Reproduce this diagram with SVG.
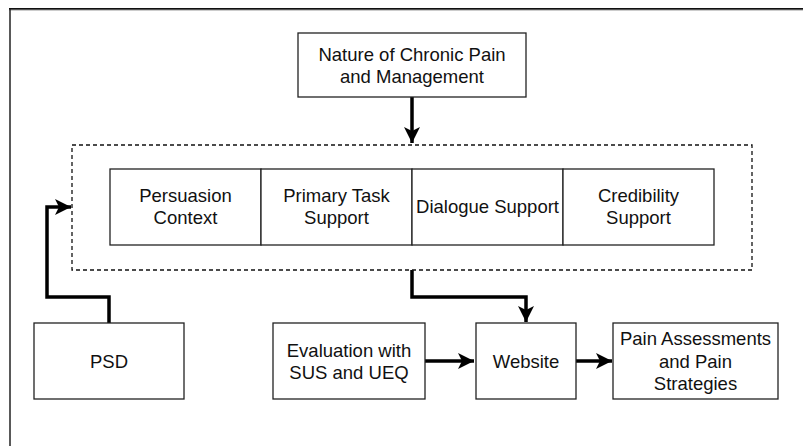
<svg xmlns="http://www.w3.org/2000/svg" width="803" height="446" viewBox="0 0 803 446">
  <style>
    .box { fill: #ffffff; stroke: #222222; stroke-width: 1.3; }
    .dash { fill: none; stroke: #111111; stroke-width: 1.3; stroke-dasharray: 4 3; }
    .edge { fill: none; stroke: #000000; stroke-width: 3.5; }
    .t { font-family: "Liberation Sans", Arial, sans-serif; font-size: 18.5px; fill: #111111; text-anchor: middle; }
  </style>
  <defs>
    <marker id="arr" markerUnits="userSpaceOnUse" markerWidth="20" markerHeight="20" viewBox="0 0 20 20" refX="17" refY="10" orient="auto">
      <path d="M1,2 L17,10 L1,18 L5,10 Z" fill="#000000"/>
    </marker>
  </defs>
  <rect width="803" height="446" fill="#ffffff"/>
  <g id="frame">
    <line x1="9" y1="9" x2="803" y2="9" stroke="#111" stroke-width="2"/>
    <line x1="9" y1="10" x2="803" y2="10" stroke="#999" stroke-width="1"/>
    <line x1="10" y1="9" x2="10" y2="446" stroke="#222" stroke-width="1.5"/>
  </g>
  <g id="connectors">
    <path class="edge" d="M412,97 V143" marker-end="url(#arr)"/>
    <path class="edge" d="M412,270 V297 H526 V322" marker-end="url(#arr)"/>
    <path class="edge" d="M109,323 V297 H47 V207 H71" marker-end="url(#arr)"/>
    <path class="edge" d="M425,361 H474" marker-end="url(#arr)"/>
    <path class="edge" d="M576,361 H612" marker-end="url(#arr)"/>
  </g>
  <g id="nature">
    <rect class="box" x="298" y="33" width="228" height="64"/>
    <text class="t" x="412" y="61">Nature of Chronic Pain</text>
    <text class="t" x="412" y="83">and Management</text>
  </g>
  <g id="container">
    <rect class="dash" x="72" y="145" width="680" height="125"/>
  </g>
  <g id="persuasion">
    <rect class="box" x="110" y="169" width="151" height="76"/>
    <text class="t" x="185.5" y="202">Persuasion</text>
    <text class="t" x="185.5" y="224">Context</text>
  </g>
  <g id="primary">
    <rect class="box" x="261" y="169" width="151" height="76"/>
    <text class="t" x="336.5" y="202">Primary Task</text>
    <text class="t" x="336.5" y="224">Support</text>
  </g>
  <g id="dialogue">
    <rect class="box" x="412" y="169" width="151" height="76"/>
    <text class="t" x="487.5" y="213">Dialogue Support</text>
  </g>
  <g id="credibility">
    <rect class="box" x="563" y="169" width="151" height="76"/>
    <text class="t" x="638.5" y="202">Credibility</text>
    <text class="t" x="638.5" y="224">Support</text>
  </g>
  <g id="psd">
    <rect class="box" x="34" y="323" width="150" height="76"/>
    <text class="t" x="109" y="367.5">PSD</text>
  </g>
  <g id="evaluation">
    <rect class="box" x="273" y="323" width="152" height="76"/>
    <text class="t" x="349" y="356.5">Evaluation with</text>
    <text class="t" x="349" y="378.5">SUS and UEQ</text>
  </g>
  <g id="website">
    <rect class="box" x="476" y="323" width="100" height="76"/>
    <text class="t" x="526" y="367.5">Website</text>
  </g>
  <g id="pain">
    <rect class="box" x="613" y="323" width="165" height="76"/>
    <text class="t" x="695.5" y="345">Pain Assessments</text>
    <text class="t" x="695.5" y="367.5">and Pain</text>
    <text class="t" x="695.5" y="390">Strategies</text>
  </g>
</svg>
